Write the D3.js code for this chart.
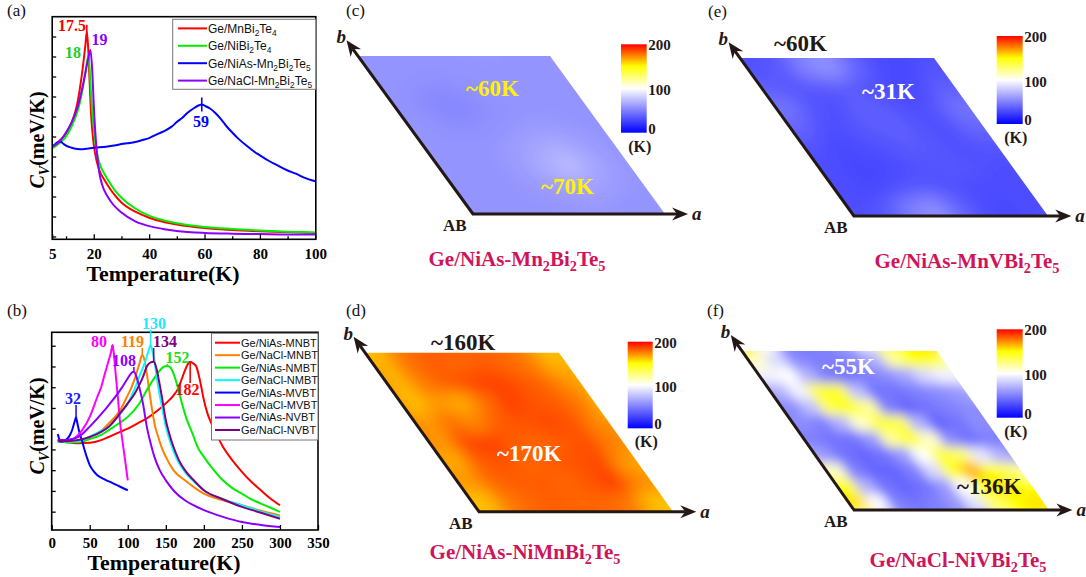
<!DOCTYPE html>
<html><head><meta charset="utf-8">
<script src="https://cdn.jsdelivr.net/npm/d3@7/dist/d3.min.js"></script>
<style>html,body{margin:0;padding:0;background:#fff;}svg{display:block;}</style>
</head><body>
<svg id="fig" width="1086" height="577" xmlns="http://www.w3.org/2000/svg"></svg>
<script>
// ================= DATA =================
// ---- Panel (a) ----
const seriesA = ["Ge/MnBi_2Te_4", "Ge/NiBi_2Te_4", "Ge/NiAs-Mn_2Bi_2Te_5", "Ge/NaCl-Mn_2Bi_2Te_5"];
const colorsA = ["#ff0000", "#00ee00", "#0000ff", "#8a00ff"];
const tA_MnBT = [5,7,10,12,14,15,16,17,17.5,18,18.5,19,20,21,22,24,26,28,30,35,40,45,50,60,70,80,90,100];
const cvA_MnBT = [2.25,2.35,2.58,2.85,3.3,3.7,4.2,4.8,5.12,4.7,3.9,3.1,2.3,1.9,1.66,1.4,1.18,1.0,0.85,0.62,0.47,0.37,0.3,0.21,0.16,0.13,0.11,0.09];
const tA_NiBT = [5,7,10,12,14,15,16,17,18,18.5,19,20,21,22,24,26,28,30,35,40,45,50,60,70,80,90,100];
const cvA_NiBT = [2.2,2.3,2.5,2.75,3.1,3.35,3.7,4.1,4.5,4.2,3.6,2.7,2.15,1.85,1.55,1.32,1.12,0.97,0.7,0.52,0.41,0.33,0.24,0.19,0.15,0.12,0.1];
const tA_NiAsM2 = [5,6,7,8,9,10,12,14,16,18,20,22,25,28,30,32,35,38,40,42,45,48,50,52,54,56,58,59,60,62,64,66,68,70,72,75,78,80,83,86,90,93,96,100];
const cvA_NiAsM2 = [2.25,2.3,2.36,2.37,2.32,2.27,2.22,2.19,2.18,2.2,2.22,2.23,2.25,2.28,2.31,2.33,2.36,2.42,2.46,2.53,2.62,2.74,2.86,2.97,3.1,3.2,3.28,3.3,3.27,3.2,3.08,2.93,2.75,2.6,2.46,2.28,2.12,2.03,1.9,1.79,1.65,1.57,1.47,1.38];
const tA_NaClM2 = [5,7,10,12,14,15,16,17,18,18.8,19.5,20,21,22,23,25,27,30,35,40,45,50,60,70,80,90,100];
const cvA_NaClM2 = [2.25,2.33,2.6,2.85,3.2,3.45,3.75,4.1,4.45,4.66,4.1,3.3,2.2,1.6,1.3,1.0,0.8,0.6,0.38,0.26,0.19,0.14,0.09,0.07,0.06,0.05,0.05];
const xTicksA = [5,20,40,60,80,100];
const xMinorA = [10,30,50,70,90];
const yTicksA = [0,0.5,1,1.5,2,2.5,3,3.5,4,4.5,5];
const peakA_T = [17.5, 18, 19, 59];
const peakA_V = [5.12, 4.5, 4.66, 3.3];
const peakA_label = ["17.5", "18", "19", "59"];

// ---- Panel (b) ----
const seriesB = ["Ge/NiAs-MNBT","Ge/NaCl-MNBT","Ge/NiAs-NMBT","Ge/NaCl-NMBT","Ge/NiAs-MVBT","Ge/NaCl-MVBT","Ge/NiAs-NVBT","Ge/NaCl-NVBT"];
const colorsB = ["#ff0000","#ff8000","#00ee00","#00ffff","#0000ff","#ff00ff","#8a00ff","#800080"];
const tB_NiAsMNBT = [8,20,35,50,65,75,90,100,115,125,140,150,160,165,170,175,178,182,186,190,195,200,205,210,217,225,237,250,262,275,287,300];
const cvB_NiAsMNBT = [4.37,4.35,4.3,4.32,4.45,4.6,4.85,5.0,5.3,5.5,5.9,6.22,6.6,6.86,7.3,7.8,8.05,8.23,8.15,8.0,7.3,6.38,5.7,5.25,4.7,4.13,3.5,2.92,2.45,2.03,1.65,1.31];
const tB_NaClMNBT = [8,20,35,50,65,75,90,100,105,110,115,119,122,125,128,132,136,140,145,150,160,175,190,200,225,250,275,300];
const cvB_NaClMNBT = [4.45,4.4,4.42,4.6,4.9,5.25,5.9,6.62,7.0,7.5,8.1,8.55,8.3,7.67,6.9,5.9,5.1,4.6,4.05,3.64,3.0,2.51,2.1,1.87,1.55,1.31,1.05,0.82];
const tB_NiAsNMBT = [8,20,35,50,65,75,90,100,115,125,135,142,148,152,156,160,165,170,177,185,192,200,212,225,237,250,262,275,287,300];
const cvB_NiAsNMBT = [4.4,4.35,4.35,4.5,4.7,4.93,5.3,5.57,6.2,6.86,7.45,7.8,8.0,8.02,7.95,7.67,7.1,6.38,5.5,4.77,4.1,3.64,3.05,2.51,2.15,1.87,1.6,1.39,1.2,0.99];
const tB_NaClNMBT = [8,20,35,50,65,75,90,100,110,115,120,125,128,130,132,135,138,142,145,150,155,165,175,190,200,225,250,275,300];
const cvB_NaClNMBT = [4.4,4.38,4.4,4.62,4.9,5.1,5.7,6.22,7.0,7.5,7.95,8.47,8.85,9.04,8.8,8.3,7.5,6.6,6.06,5.1,4.45,3.5,2.92,2.35,2.03,1.6,1.31,1.0,0.74];
const tB_NiAsMVBT = [8,10,12,16,20,24,27,29,31,32,33,35,37,40,43,46,50,55,60,70,80,90,100];
const cvB_NiAsMVBT = [4.75,4.5,4.37,4.4,4.5,4.7,4.95,5.2,5.45,5.55,5.4,5.05,4.75,4.4,4.0,3.65,3.24,2.95,2.76,2.55,2.38,2.2,2.03];
const tB_NaClMVBT = [8,20,30,40,50,60,65,70,75,78,80,82,84,87,90,93,96,100];
const cvB_NaClMVBT = [4.45,4.45,4.55,4.93,5.57,6.54,7.0,7.67,8.3,8.7,9.04,8.5,7.67,6.5,5.25,4.4,3.6,2.51];
const tB_NiAsNVBT = [8,20,35,50,65,75,90,100,105,108,111,115,120,125,130,135,142,150,162,175,187,200,225,250,275,300];
const cvB_NiAsNVBT = [4.45,4.45,4.6,5.1,5.7,6.14,6.86,7.43,7.7,7.75,7.55,7.02,6.2,5.1,4.3,3.64,3.0,2.51,1.95,1.55,1.3,1.07,0.75,0.5,0.36,0.26];
const tB_NaClNVBT = [8,20,35,50,65,75,90,100,110,115,120,125,130,134,137,140,145,150,155,160,167,175,187,200,225,250,275,300];
const cvB_NaClNVBT = [4.42,4.4,4.45,4.6,4.85,5.1,5.75,6.22,6.75,7.1,7.5,8.0,8.2,8.23,8.0,7.5,6.5,5.41,4.7,4.13,3.5,3.0,2.5,2.03,1.6,1.23,0.95,0.66];
const xTicksB = [0,50,100,150,200,250,300,350];
const yTicksB = [1,2,3,4,5,6,7,8,9];
const peakB_T = [182, 119, 152, 130, 32, 80, 108, 134];
const peakB_V = [8.23, 8.55, 8.02, 9.04, 5.55, 9.04, 7.75, 8.23];
const peakB_label = ["182","119","152","130","32","80","108","134"];

// ---- Heat maps: Curie temperature (K) on a grid (rows: top b-edge -> AB edge, cols: along a) ----
const colorbarValues = [0, 100, 150, 200];
const colorbarColors = ["#0000ff", "#ffffff", "#ffff00", "#ff0000"];
const colorbarTicks = [0, 100, 200];
const gridC = [
  [58,58,58,58,58,58,58,58],
  [58,56,55,57,58,58,58,58],
  [57,54,52,55,57,58,58,58],
  [58,56,55,57,59,60,59,58],
  [58,58,58,60,64,67,63,59],
  [58,58,58,61,68,74,66,60],
  [58,58,58,60,63,65,62,59],
  [58,58,58,58,59,60,58,58]];
const gridE = [
  [32,36,52,58,40,30,28,32],
  [36,32,34,36,32,28,30,38],
  [46,34,30,38,36,30,32,46],
  [40,30,32,36,38,32,30,40],
  [32,28,30,32,36,34,30,32],
  [30,28,28,30,32,34,32,30],
  [30,28,30,34,32,30,30,30],
  [30,34,48,56,40,30,28,30]];
const gridD = [
  [165,178,182,180,182,180,176,165],
  [164,176,182,186,188,184,180,172],
  [162,170,166,178,188,184,182,176],
  [170,178,174,182,184,186,184,174],
  [170,186,188,182,180,182,185,176],
  [166,182,184,180,182,184,186,170],
  [170,180,182,182,180,184,188,174],
  [162,176,180,182,180,180,176,162]];
const gridF = [
  [110, 85, 55, 50, 50, 55, 70,120,150,145],
  [ 95,100, 70, 50, 45, 50, 55, 65, 85, 95],
  [ 70, 95,140,145, 75, 45, 45, 50, 55, 60],
  [ 55, 75,135,150,120, 50, 40, 45, 50, 55],
  [ 55, 50, 70,110,140,135, 70, 40, 45, 55],
  [ 50, 45, 45, 60,120,145,110, 55, 45, 50],
  [ 60, 45, 40, 45, 60,100,140,130, 90, 70],
  [110, 50, 40, 40, 50, 85,145,165,150,130],
  [150, 70, 45, 40, 45, 60,100,145,155,150],
  [155,100, 50, 45, 50, 60, 90,130,150,155]];
const titleC = "Ge/NiAs-Mn_2Bi_2Te_5";
const titleE = "Ge/NiAs-MnVBi_2Te_5";
const titleD = "Ge/NiAs-NiMnBi_2Te_5";
const titleF = "Ge/NaCl-NiVBi_2Te_5";

// ================= DRAWING =================
const svg = d3.select("#fig");
const defs = svg.append("defs");
const SERIF = "'Liberation Serif','Times New Roman',Times,serif";
const SANS = "'Liberation Sans',Arial,Helvetica,sans-serif";
const INK = "#231815";

function rich(textSel, str, size, subScale, subDy) {
  const parts = str.split(/_(\w)/);
  let shifted = false;
  parts.forEach((p, i) => {
    if (p === "") return;
    const isSub = i % 2 === 1;
    const ts = textSel.append("tspan").text(p);
    if (isSub) {
      ts.attr("font-size", size * subScale);
      if (!shifted) { ts.attr("dy", subDy); shifted = true; }
    } else {
      ts.attr("font-size", size);
      if (shifted) { ts.attr("dy", -subDy); shifted = false; }
    }
  });
}

function panelLabel(txt, x, y) {
  svg.append("text").attr("x", x).attr("y", y).attr("font-family", SERIF)
    .attr("font-size", 17).attr("fill", "#111").text(txt);
}

function yLabel(cx, cy) {
  const t = svg.append("text").attr("transform", `translate(${cx},${cy}) rotate(-90)`)
    .attr("text-anchor", "middle").attr("font-family", SERIF).attr("font-weight", "bold")
    .attr("font-size", 20).attr("fill", "#000");
  t.append("tspan").attr("font-style", "italic").text("C");
  t.append("tspan").attr("font-style", "italic").attr("font-size", 14).attr("dy", 5).text("V");
  t.append("tspan").attr("dy", -5).text("(meV/K)");
}

function plotPanel(o) {
  const g = svg.append("g");
  const x = d3.scaleLinear().domain(o.xd).range(o.xr);
  const y = d3.scaleLinear().domain(o.yd).range(o.yr);
  const line = d3.line().x(d => x(d[0])).y(d => y(d[1])).curve(d3.curveMonotoneX);
  const cid = o.id + "clip";
  defs.append("clipPath").attr("id", cid).append("rect")
    .attr("x", o.fx0).attr("y", o.fy0).attr("width", o.fx1 - o.fx0).attr("height", o.fy1 - o.fy0);
  const cg = g.append("g").attr("clip-path", `url(#${cid})`);
  o.series.forEach(s => {
    cg.append("path").datum(d3.zip(s.T, s.V)).attr("d", line)
      .attr("fill", "none").attr("stroke", s.color).attr("stroke-width", 2).attr("stroke-linejoin", "round");
  });
  const styleAxis = sel => {
    sel.select(".domain").remove();
    sel.selectAll("line").attr("stroke", "#000").attr("stroke-width", 1.3);
    sel.selectAll("text").attr("font-family", SERIF).attr("font-weight", "bold")
      .attr("font-size", 15).attr("fill", "#000");
  };
  if (o.xMinor) g.append("g").attr("transform", `translate(0,${o.fy1})`)
    .call(d3.axisBottom(x).tickValues(o.xMinor).tickSizeInner(-3).tickSizeOuter(0).tickFormat(""))
    .call(styleAxis);
  g.append("g").attr("transform", `translate(0,${o.fy1})`)
    .call(d3.axisBottom(x).tickValues(o.xTicks).tickSizeInner(-5).tickSizeOuter(0).tickPadding(o.pad).tickFormat(d3.format("d")))
    .call(styleAxis);
  g.append("g").attr("transform", `translate(${o.fx0},0)`)
    .call(d3.axisLeft(y).tickValues(o.yTicks).tickSizeInner(-4).tickSizeOuter(0).tickFormat(""))
    .call(styleAxis);
  g.append("rect").attr("x", o.fx0).attr("y", o.fy0).attr("width", o.fx1 - o.fx0).attr("height", o.fy1 - o.fy0)
    .attr("fill", "none").attr("stroke", "#000").attr("stroke-width", 1.6);
  g.append("text").attr("x", o.titleX).attr("y", o.titleY).attr("text-anchor", "middle")
    .attr("font-family", SERIF).attr("font-weight", "bold").attr("font-size", 20)
    .attr("textLength", 153).attr("lengthAdjust", "spacingAndGlyphs").text("Temperature(K)");
  o.peaks.forEach(p => {
    const px = x(p.T), py = y(p.V);
    if (p.m0 !== null) g.append("line").attr("x1", px).attr("x2", px).attr("y1", p.m0 !== undefined ? p.m0 : py - 7)
      .attr("y2", p.m1 !== undefined ? p.m1 : py + 7).attr("stroke", p.color).attr("stroke-width", 1.6);
    g.append("text").attr("x", p.lx).attr("y", p.ly).attr("text-anchor", "middle")
      .attr("font-family", SERIF).attr("font-weight", "bold").attr("font-size", o.peakFont)
      .attr("fill", p.color).text(p.label);
  });
  const L = o.legend;
  g.append("rect").attr("x", L.x0).attr("y", L.y0).attr("width", L.x1 - L.x0).attr("height", L.y1 - L.y0)
    .attr("fill", "#fff").attr("stroke", "#777").attr("stroke-width", 1);
  o.series.forEach((s, i) => {
    const yy = L.first + i * L.step;
    g.append("line").attr("x1", L.lx0).attr("x2", L.lx1).attr("y1", yy).attr("y2", yy)
      .attr("stroke", s.color).attr("stroke-width", 2);
    const t = g.append("text").attr("x", L.lx1 + 1).attr("y", yy + L.fs * 0.36)
      .attr("font-family", SANS).attr("fill", "#111");
    rich(t, s.name, L.fs, 0.7, 3);
  });
  return {x, y};
}

// ---- panel (a)
const serA = [
  {name: seriesA[0], color: colorsA[0], T: tA_MnBT, V: cvA_MnBT},
  {name: seriesA[1], color: colorsA[1], T: tA_NiBT, V: cvA_NiBT},
  {name: seriesA[2], color: colorsA[2], T: tA_NiAsM2, V: cvA_NiAsM2},
  {name: seriesA[3], color: colorsA[3], T: tA_NaClM2, V: cvA_NaClM2}];
const labPosA = [[72, 31], [73, 58], [99.5, 45], [201, 126.7]];
const peakColA = ["#ff0000", "#22cc22", "#8a00ff", "#0000ff"];
plotPanel({
  id: "pa", xd: [5, 100], xr: [52.2, 315.3], yd: [0, 5], yr: [236.5, 36.5],
  fx0: 52.2, fx1: 315.8, fy0: 16.7, fy1: 239.3, pad: 9,
  xTicks: xTicksA, xMinor: xMinorA, yTicks: yTicksA,
  series: serA, titleX: 163, titleY: 281, peakFont: 16,
  peaks: peakA_T.map((T, i) => ({T, V: peakA_V[i], label: peakA_label[i], color: peakColA[i],
    lx: labPosA[i][0], ly: labPosA[i][1], m0: (i === 1 || i === 2) ? null : undefined})),
  legend: {x0: 172.7, x1: 315.8, y0: 19.3, y1: 89.3, first: 28.4, step: 17.4, lx0: 178, lx1: 207, fs: 12}
});
panelLabel("(a)", 7, 15.5);
yLabel(44, 140);

// ---- panel (b)
const tB = [tB_NiAsMNBT, tB_NaClMNBT, tB_NiAsNMBT, tB_NaClNMBT, tB_NiAsMVBT, tB_NaClMVBT, tB_NiAsNVBT, tB_NaClNVBT];
const vB = [cvB_NiAsMNBT, cvB_NaClMNBT, cvB_NiAsNMBT, cvB_NaClNMBT, cvB_NiAsMVBT, cvB_NaClMVBT, cvB_NiAsNVBT, cvB_NaClNVBT];
const serB = seriesB.map((n, i) => ({name: n, color: colorsB[i], T: tB[i], V: vB[i]}));
const labPosB = [[187.5, 395], [132.5, 347], [177.5, 363], [154, 329], [73, 404], [99, 347], [124, 366], [165, 347]];
const peakColB = ["#ff0000", "#ff8000", "#22dd22", "#22e8ff", "#1a1aff", "#ff00ff", "#8a00ff", "#800080"];
const yB = d3.scaleLinear().domain([0, 10]).range([532.4, 325]);
plotPanel({
  id: "pb", xd: [0, 350], xr: [51.7, 318], yd: [0, 10], yr: [532.4, 325],
  fx0: 51.7, fx1: 318, fy0: 332.3, fy1: 530, pad: 7,
  xTicks: xTicksB, xMinor: null, yTicks: yTicksB,
  series: serB, titleX: 164, titleY: 569.5, peakFont: 16,
  peaks: peakB_T.map((T, i) => {
    const py = yB(peakB_V[i]);
    const below = i === 0;
    return {T, V: peakB_V[i], label: peakB_label[i], color: peakColB[i],
      lx: labPosB[i][0], ly: labPosB[i][1],
      m0: below ? py : labPosB[i][1] + 1, m1: below ? labPosB[i][1] - 12 : py};
  }),
  legend: {x0: 211.5, x1: 318, y0: 333.3, y1: 440, first: 342.7, step: 12.47, lx0: 215, lx1: 240, fs: 11}
});
panelLabel("(b)", 7, 316);
yLabel(44, 426);

// ---- heat map panels
const heatColor = d3.scaleLinear().domain(colorbarValues).range(colorbarColors).clamp(true);

function arrow(g, x0, y0, x1, y1) {
  const dx = x1 - x0, dy = y1 - y0, len = Math.hypot(dx, dy);
  const ux = dx / len, uy = dy / len, nx = -uy, ny = ux;
  const L = 16, W = 6.5, N = 11;
  g.append("line").attr("x1", x0).attr("y1", y0).attr("x2", x1 - ux * N).attr("y2", y1 - uy * N)
    .attr("stroke", INK).attr("stroke-width", 3);
  const pts = [[x1, y1], [x1 - ux * L + nx * W, y1 - uy * L + ny * W], [x1 - ux * N, y1 - uy * N],
    [x1 - ux * L - nx * W, y1 - uy * L - ny * W]];
  g.append("polygon").attr("points", pts.map(p => p.join(",")).join(" ")).attr("fill", INK);
}

function heatPanel(o) {
  const g = svg.append("g");
  const grid = o.grid, m = grid.length, n = grid[0].length;
  const P = (u, v) => [o.O[0] + u * o.A[0] + v * o.B[0], o.O[1] + u * o.A[1] + v * o.B[1]];
  const bu = d3.scaleBand().domain(d3.range(-1, n + 1)).range([-1 / n, 1 + 1 / n]);
  const bv = d3.scaleBand().domain(d3.range(-1, m + 1)).range([-1 / m, 1 + 1 / m]);
  const cid = o.id + "clip", fid = o.id + "blur";
  defs.append("clipPath").attr("id", cid).append("polygon")
    .attr("points", [P(0, 0), P(1, 0), P(1, 1), P(0, 1)].map(p => p.join(",")).join(" "));
  defs.append("filter").attr("id", fid).attr("filterUnits", "userSpaceOnUse")
    .attr("x", o.O[0] + o.B[0] - 60).attr("y", o.O[1] + o.B[1] - 60)
    .attr("width", o.A[0] - o.B[0] + 120).attr("height", -o.B[1] + 120)
    .append("feGaussianBlur").attr("stdDeviation", o.blur);
  const cg = g.append("g").attr("clip-path", `url(#${cid})`).append("g").attr("filter", `url(#${fid})`);
  const cells = [];
  for (let j = -1; j <= m; j++) for (let i = -1; i <= n; i++) {
    const row = m - 1 - ((j % m) + m) % m, col = ((i % n) + n) % n;
    cells.push({i, j, val: grid[row][col]});
  }
  const e = 0.004;
  cg.selectAll("polygon").data(cells).join("polygon")
    .attr("points", d => {
      const u0 = bu(d.i) - e, u1 = bu(d.i) + bu.bandwidth() + e, v0 = bv(d.j) - e, v1 = bv(d.j) + bv.bandwidth() + e;
      return [P(u0, v0), P(u1, v0), P(u1, v1), P(u0, v1)].map(p => p.join(",")).join(" ");
    })
    .attr("fill", d => heatColor(d.val));
  const tipA = P(1.12, 0), tipB = P(0, 1.1);
  arrow(g, o.O[0] - 1, o.O[1], tipA[0], tipA[1]);
  arrow(g, o.O[0], o.O[1], tipB[0], tipB[1]);
  const lab = (txt, x, y, size, italic, anchor) => g.append("text").attr("x", x).attr("y", y)
    .attr("font-family", SERIF).attr("font-weight", "bold").attr("font-style", italic ? "italic" : "normal")
    .attr("font-size", size).attr("fill", INK).attr("text-anchor", anchor || "start").text(txt);
  lab("a", tipA[0] + 4, tipA[1] + 6, 19, true);
  lab("b", tipB[0] - 10, tipB[1] + 3, 19, true);
  lab("AB", o.O[0] - 30, o.O[1] + 17, 17, false);
  o.notes.forEach(nt => g.append("text").attr("x", nt[1]).attr("y", nt[2]).attr("font-family", SERIF)
    .attr("font-weight", "bold").attr("font-size", 23).attr("fill", nt[3]).text(nt[0]));
  const cb = o.cb;
  const gid = o.id + "grad";
  const grad = defs.append("linearGradient").attr("id", gid).attr("x1", 0).attr("y1", 1).attr("x2", 0).attr("y2", 0);
  colorbarValues.forEach((v, k) => grad.append("stop").attr("offset", v / 200).attr("stop-color", colorbarColors[k]));
  const ycb = d3.scaleLinear().domain([0, 200]).range([cb.y1, cb.y0]);
  g.append("rect").attr("x", cb.x0).attr("y", cb.y0).attr("width", cb.x1 - cb.x0).attr("height", cb.y1 - cb.y0)
    .attr("fill", `url(#${gid})`);
  const cbOff = {0: 1, 100: 6.5, 200: 6};
  colorbarTicks.forEach(v => lab(String(v), cb.x1 + 1.5, ycb(v) + cbOff[v], 15, false));
  lab("(K)", (cb.x0 + cb.x1) / 2 + 6, cb.y1 + 19, 16, false, "middle");
  const t = g.append("text").attr("x", o.titleX).attr("y", o.titleY).attr("text-anchor", "middle")
    .attr("font-family", SERIF).attr("font-weight", "bold").attr("fill", "#d0145a");
  rich(t, o.title, 21, 0.68, 5);
}

heatPanel({id: "pc", O: [473, 214], A: [192, 0], B: [-115, -158], grid: gridC, blur: 9,
  notes: [["~60K", 466, 96, "#fff200"], ["~70K", 541, 194, "#fff200"]],
  cb: {x0: 621, x1: 646.7, y0: 44.3, y1: 132.7}, title: titleC, titleX: 517, titleY: 266});
panelLabel("(c)", 346, 15.5);

heatPanel({id: "pe", O: [854, 216], A: [194, 0], B: [-114, -158], grid: gridE, blur: 9,
  notes: [["~60K", 774, 51, INK], ["~31K", 862, 99, "#ffffff"]],
  cb: {x0: 996.7, x1: 1022.7, y0: 36, y1: 124}, title: titleE, titleX: 967, titleY: 268});
panelLabel("(e)", 708, 16.5);

heatPanel({id: "pd", O: [479, 511.7], A: [194, 0], B: [-114, -159], grid: gridD, blur: 8,
  notes: [["~160K", 431, 350, INK], ["~170K", 497, 461, "#ffffff"]],
  cb: {x0: 627.7, x1: 652.7, y0: 341.7, y1: 428.3}, title: titleD, titleX: 525, titleY: 559});
panelLabel("(d)", 346, 315.5);

heatPanel({id: "pf", O: [854, 510], A: [195, 0], B: [-112, -159], grid: gridF, blur: 5.5,
  notes: [["~55K", 822, 374, "#ffffff"], ["~136K", 957, 494, INK]],
  cb: {x0: 996.7, x1: 1022.7, y0: 329.3, y1: 417.7}, title: titleF, titleX: 958, titleY: 567});
panelLabel("(f)", 707, 315.5);
</script>
</body></html>
